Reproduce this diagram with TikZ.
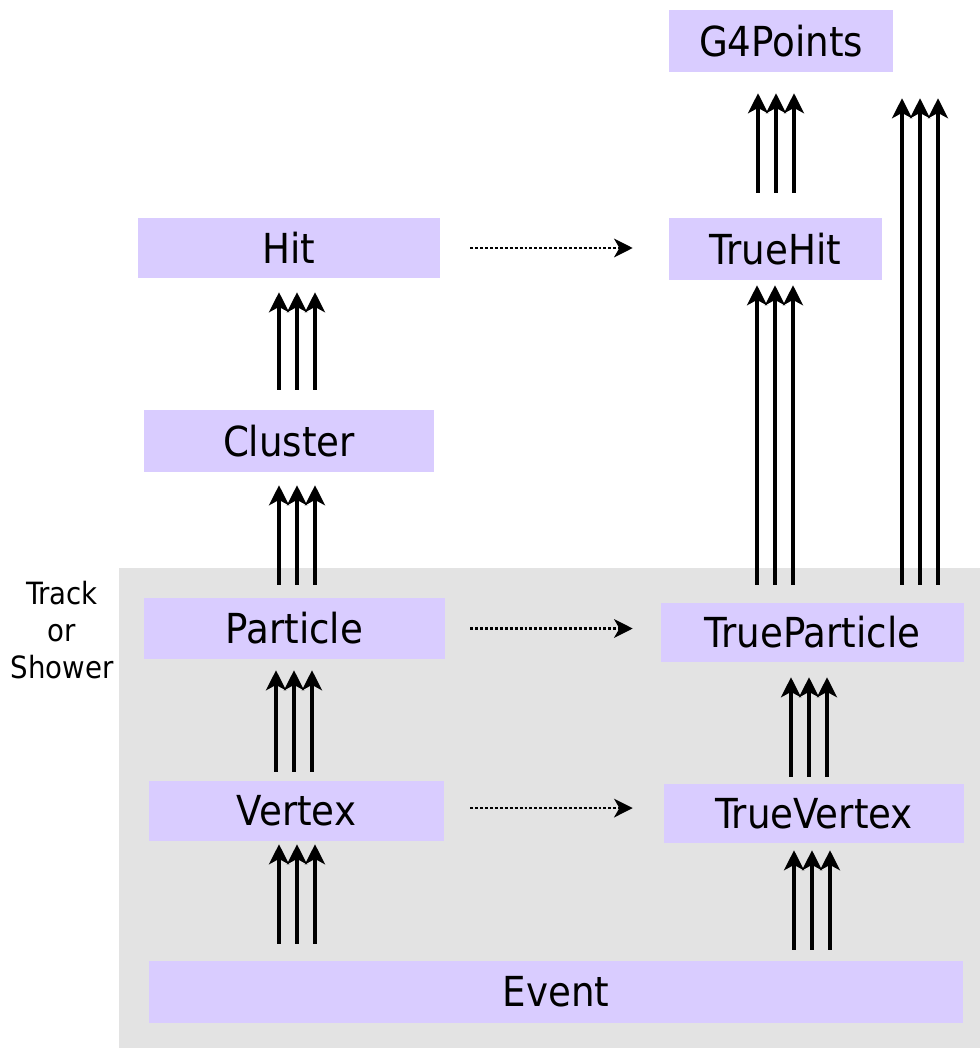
\documentclass[tikz,border=0pt]{standalone}
\usepackage{fontspec}
\setmainfont{DejaVu Sans Condensed}
\usetikzlibrary{arrows.meta}

\definecolor{boxfill}{HTML}{D9CCFF}
\definecolor{panel}{HTML}{E3E3E3}

\tikzset{
  x=0.75pt, y=-0.75pt,
  entity/.style={fill=boxfill, inner sep=0pt, text=black,
                 font=\fontsize{31}{36}\selectfont},
  uparrow/.style={line width=2.4pt, -{Stealth[length=15pt,width=15pt,inset=4pt]}},
  linkarrow/.style={line width=1.8pt, dash pattern=on 2.2pt off 1.5pt,
                    -{Stealth[length=14pt,width=14pt,inset=4pt]}},
  sidelabel/.style={align=center, font=\fontsize{23}{27.5}\selectfont}
}

% three parallel upward arrows between two nodes, centred on column #3 (px)
\newcommand\tripleup[5]{%
  \foreach \dx in {-18,0,18}{%
    \pgfmathsetmacro\cx{#3+\dx}%
    \draw[uparrow, shorten <=#4*0.75pt, shorten >=#5*0.75pt]
      (\cx,0 |- #1.north) -- (\cx,0 |- #2.south);
  }%
}

\begin{document}
\begin{tikzpicture}
\useasboundingbox (0,0) rectangle (980,1048);

% shaded panel holding the event-level objects
\fill[panel] (119,568) rectangle (980,1048);

% objects
\node[entity, minimum width=224*0.75pt, minimum height=62*0.75pt] (g4) at (781,41) {G4Points};
\node[entity, minimum width=302*0.75pt, minimum height=60*0.75pt] (hit) at (289,248) {Hit};
\node[entity, minimum width=213*0.75pt, minimum height=62*0.75pt] (truehit) at (775.5,249) {TrueHit};
\node[entity, minimum width=290*0.75pt, minimum height=62*0.75pt] (cluster) at (289,441) {Cluster};
\node[entity, minimum width=301*0.75pt, minimum height=61*0.75pt] (particle) at (294.5,628.5) {Particle};
\node[entity, minimum width=303*0.75pt, minimum height=59*0.75pt] (trueparticle) at (812.5,632.5) {TrueParticle};
\node[entity, minimum width=295*0.75pt, minimum height=60*0.75pt] (vertex) at (296.5,811) {Vertex};
\node[entity, minimum width=300*0.75pt, minimum height=59*0.75pt] (truevertex) at (814,813.5) {TrueVertex};
\node[entity, minimum width=814*0.75pt, minimum height=62*0.75pt] (event) at (556,992) {Event};

\node[sidelabel] (kind) at (62,630) {Track\\or\\Shower};

% ownership chains
\tripleup{event}{vertex}{297}{17}{3}
\tripleup{vertex}{particle}{294}{9}{11}
\tripleup{particle}{cluster}{297}{13}{13}
\tripleup{cluster}{hit}{297}{20}{14}

\tripleup{event}{truevertex}{812}{11}{7}
\tripleup{truevertex}{trueparticle}{809}{7}{15}
\tripleup{trueparticle}{truehit}{775}{18}{5}
\tripleup{truehit}{g4}{776}{25}{21}
\tripleup{trueparticle}{g4}{920}{18}{26}

% reco-to-truth links
\draw[linkarrow, shorten <=30*0.75pt, shorten >=36*0.75pt] (hit.east) -- (hit.east -| truehit.west);
\draw[linkarrow, shorten <=25*0.75pt, shorten >=28*0.75pt] (particle.east) -- (particle.east -| trueparticle.west);
\draw[linkarrow, shorten <=26*0.75pt, shorten >=31*0.75pt] ([yshift=2.2pt]vertex.east) -- ([yshift=2.2pt]vertex.east -| truevertex.west);
\end{tikzpicture}
\end{document}
